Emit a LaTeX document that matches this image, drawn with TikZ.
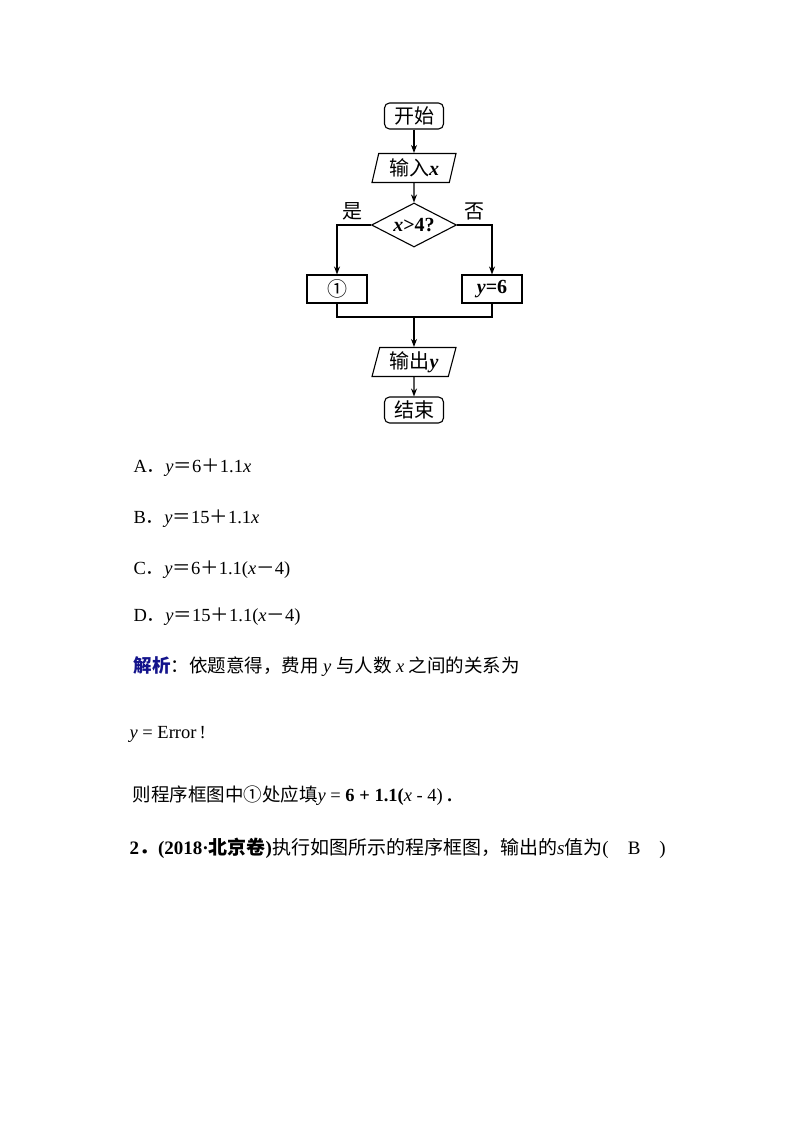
\documentclass[tikz,border=0pt]{standalone}
\usepackage{fontspec}
\setmainfont{Liberation Serif}
\newfontfamily\cjk{Noto Sans CJK SC}
\usetikzlibrary{shapes.geometric,arrows.meta}
\definecolor{jxblue}{RGB}{20,20,140}
\newcommand\myzh[1]{{\cjk #1}}
\begin{document}
\begin{tikzpicture}[x=1pt,y=-1pt,
  line width=1.1pt,
  procbox/.style={draw, rectangle, minimum width=60pt, minimum height=28pt, inner sep=0pt},
  termbox/.style={draw, rounded corners=5pt, minimum width=59pt, minimum height=26pt, inner sep=0pt},
  iobox/.style={draw, trapezium, trapezium left angle=70, trapezium right angle=110, trapezium stretches body, minimum width=84pt, minimum height=29pt, inner sep=0pt},
  decbox/.style={draw, diamond, minimum width=85pt, minimum height=44pt, inner sep=0pt, aspect=1.93},
  arr/.style={-{Stealth[length=8pt,width=6pt]}},
  fc/.style={font=\fontsize{20}{20}\selectfont},
  bodytext/.style={anchor=base west, inner sep=0pt, font=\fontsize{18.5}{18.5}\selectfont}
]
\useasboundingbox (0,0) rectangle (794,1123);
\fill[white] (0,0) rectangle (794,1123);

% flowchart
\node[termbox,fc] (start) at (414,116) {\myzh{开始}};
\node[iobox,fc] (in) at (414,168) {\myzh{输入}\textbf{\textit{x}}};
\node[decbox,fc] (cond) at (414,225) {\textbf{\textit{x}>4?}};
\node[procbox,fc] (b1) at (337,289) {\myzh{①}};
\node[procbox,fc] (b2) at (492,289) {\textbf{\textit{y}=6}};
\node[iobox,fc] (out) at (414,362) {\myzh{输出}\textbf{\textit{y}}};
\node[termbox,fc] (end) at (414,410) {\myzh{结束}};
\coordinate (m) at (414,317);
\node[fc] (yes) at (352,211) {\myzh{是}};
\node[fc] (no) at (474,211) {\myzh{否}};

\draw[arr] (start) -- (in);
\draw[arr] (in) -- (cond);
\draw[arr] (cond.west) -| (b1.north);
\draw[arr] (cond.east) -| (b2.north);
\draw (b1.south) |- (m) -| (b2.south);
\draw[arr] (m) -- (out);
\draw[arr] (out) -- (end);

% text
\node[bodytext] (la) at (133,472) {A\myzh{．}\textit{y}\myzh{＝}6\myzh{＋}1.1\textit{x}};
\node[bodytext] (lb) at (133,523) {B\myzh{．}\textit{y}\myzh{＝}15\myzh{＋}1.1\textit{x}};
\node[bodytext] (lc) at (133,574) {C\myzh{．}\textit{y}\myzh{＝}6\myzh{＋}1.1(\textit{x}\myzh{－}4)};
\node[bodytext] (ld) at (133,621) {D\myzh{．}\textit{y}\myzh{＝}15\myzh{＋}1.1(\textit{x}\myzh{－}4)};
\node[bodytext] (jx) at (133,672) {\myzh{\textcolor{jxblue}{\bfseries 解析}：依题意得，费用} \textit{y} \myzh{与人数} \textit{x} \myzh{之间的关系为}};
\node[bodytext] (err) at (129,738) {\textit{y} = Error\,!};
\node[bodytext] (fill) at (132,801) {\myzh{则程序框图中①处应填}\textit{y} = \textbf{6 + 1.1(}\textit{x} - 4) \textbf{.}};
\node[bodytext, font=\fontsize{19}{19}\selectfont] (q2) at (129,854) {\textbf{2\myzh{．}(2018·\myzh{北京卷})}\myzh{执行如图所示的程序框图，输出的}\textit{s}\myzh{值为}(\quad B\quad )};
\end{tikzpicture}
\end{document}
